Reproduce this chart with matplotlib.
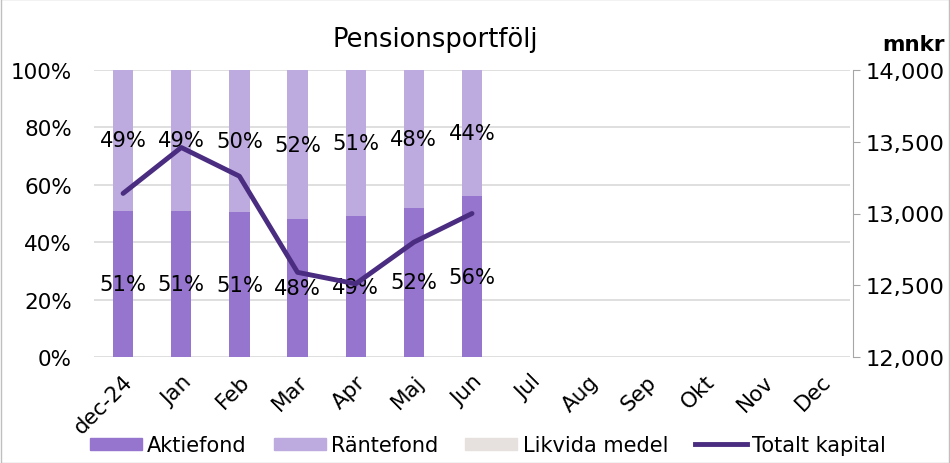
import matplotlib.pyplot as plt
import matplotlib.patches as mpatches
import matplotlib.lines as mlines
import numpy as np

months = ["dec-24", "Jan", "Feb", "Mar", "Apr", "Maj", "Jun",
          "Jul", "Aug", "Sep", "Okt", "Nov", "Dec"]
aktiefond = [51, 51, 51, 48, 49, 52, 56]
rantefond = [49, 49, 50, 52, 51, 48, 44]
likvida = [0, 0, 0, 0, 0, 0, 0]
totalt_kapital = [13140, 13460, 13260, 12590, 12510, 12800, 13000]
right_ticks = [12000, 12500, 13000, 13500, 14000]

c_aktie = "#9575cd"
c_rante = "#bdaadf"
c_likv = "#e6e1de"
c_line = "#4a2c80"
grid_c = "#d9d9d9"

plt.rcParams['font.family'] = ['DejaVu Sans']
fs = 15.5

fig = plt.figure(figsize=(9.5, 4.64), dpi=100)
ax = fig.add_axes([94 / 950, 1 - 358 / 464, 756 / 950, 287 / 464])

n = len(aktiefond)
x = np.arange(n)
tot = np.array(aktiefond) + np.array(rantefond) + np.array(likvida)
a = np.array(aktiefond) / tot
r = np.array(rantefond) / tot
l = np.array(likvida) / tot

w = 0.35
ax.bar(x, a, w, color=c_aktie, zorder=2)
ax.bar(x, r, w, bottom=a, color=c_rante, zorder=2)
ax.bar(x, l, w, bottom=a + r, color=c_likv, zorder=2)

for i in range(n):
    ax.text(x[i], a[i] / 2, f"{aktiefond[i]}%", ha="center", va="center",
            fontsize=15.2, zorder=5)
    ax.text(x[i], a[i] + r[i] / 2, f"{rantefond[i]}%", ha="center", va="center",
            fontsize=15.2, zorder=5)

ax.set_xlim(-0.5, len(months) - 0.5)
ax.set_ylim(0, 1)
yt = np.arange(0, 1.01, 0.2)
ax.set_yticks(yt)
ax.set_yticklabels([f"{int(round(v * 100))}%" for v in yt])
ax.set_xticks(np.arange(len(months)))
ax.set_xticklabels(months, rotation=45, ha="right", rotation_mode="anchor")
ax.tick_params(axis="x", length=0, pad=10, labelsize=fs)
ax.tick_params(axis="y", length=0, pad=16, labelsize=fs)
ax.yaxis.grid(True, color=grid_c, linewidth=1.2, zorder=0)
ax.set_axisbelow(True)
for s in ax.spines.values():
    s.set_visible(False)

ax2 = ax.twinx()
ax2.plot(x, totalt_kapital, color=c_line, linewidth=3.5, zorder=4,
         solid_capstyle="round", solid_joinstyle="round")
ax2.set_ylim(12000, 14000)
ax2.set_yticks(right_ticks)
ax2.set_yticklabels([f"{v:,}" for v in right_ticks])
ax2.tick_params(axis="y", direction="out", length=5, color="#a6a6a6", pad=4,
                labelsize=16.2)
for k, s in ax2.spines.items():
    s.set_visible(k == "right")
ax2.spines["right"].set_color("#a6a6a6")
ax2.spines["right"].set_position(("outward", 2))

fig.text(435 / 950, 1 - 40 / 464, "Pensionsportfölj", ha="center", va="center",
         fontsize=18.5)
fig.text(913 / 950, 1 - 45 / 464, "mnkr", ha="center", va="center",
         fontsize=15.5, fontweight="bold")

handles = [
    mpatches.Patch(color=c_aktie, label="Aktiefond"),
    mpatches.Patch(color=c_rante, label="Räntefond"),
    mpatches.Patch(color=c_likv, label="Likvida medel"),
    mlines.Line2D([], [], color=c_line, linewidth=3.5, label="Totalt kapital"),
]
fig.legend(handles=handles, loc="center", bbox_to_anchor=(488 / 950, 1 - 446 / 464),
           ncol=4, frameon=False, fontsize=15, handlelength=2.5,
           handleheight=0.5, handletextpad=0.25, columnspacing=1.3)

fig.patches.append(mpatches.Rectangle((0.001, 0.001), 0.998, 0.998,
                                      transform=fig.transFigure, fill=False,
                                      edgecolor="#bfbfbf", linewidth=1))

fig.savefig("out.png", dpi=100)
